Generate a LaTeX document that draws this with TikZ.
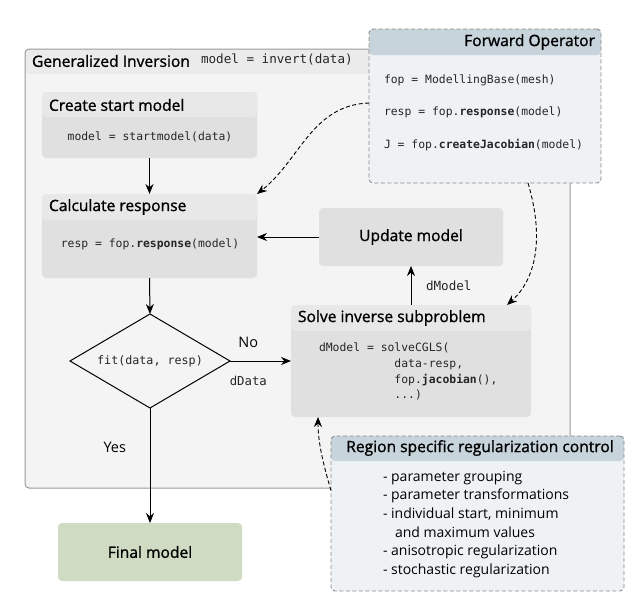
\documentclass[tikz,border=0pt]{standalone}
\usepackage{fontspec}
\setmainfont{Open Sans}
\setmonofont{DejaVu Sans Mono}
\newfontfamily\hdfont[FakeBold=1.2]{Open Sans}
\usetikzlibrary{arrows.meta,shapes.geometric}
\definecolor{outerfill}{HTML}{F4F4F4}
\definecolor{outerhdr}{HTML}{EBEBEB}
\definecolor{outerline}{HTML}{9A9A9A}
\definecolor{boxhdr}{HTML}{E8E8E8}
\definecolor{boxbody}{HTML}{E0E0E0}
\definecolor{bluehdr}{HTML}{C8D4DB}
\definecolor{bluebody}{HTML}{EEF2F4}
\definecolor{dashline}{HTML}{8A8A8A}
\definecolor{finalfill}{HTML}{D0DBC4}
\begin{document}
\begin{tikzpicture}[x=1pt,y=-1pt,
  every node/.style={inner sep=0pt, outer sep=0pt},
  hdtext/.style={font=\hdfont\fontsize{15.6}{18}\selectfont, text=black},
  codetext/.style={font=\ttfamily\fontsize{11.4}{15.7}\selectfont, text=black!85},
  lbltext/.style={font=\fontsize{14.5}{17}\selectfont, text=black},
  hdrband/.style n args={2}{path picture={\fill[#1] (path picture bounding box.north west) rectangle ([yshift=-#2]path picture bounding box.north east);}},
  outerbox/.style={draw=outerline, line width=1pt, fill=outerfill, rounded corners=4pt, anchor=north west, hdrband={outerhdr}{25pt}},
  graybox/.style={fill=boxbody, rounded corners=4pt, anchor=north west, hdrband={boxhdr}{#1}},
  plainbox/.style={fill=boxbody, rounded corners=4pt, anchor=north west},
  bluebox/.style={draw=dashline, dash pattern=on 4pt off 2.5pt, line width=0.9pt, fill=bluebody, rounded corners=4pt, anchor=north west, hdrband={bluehdr}{#1}},
  finalbox/.style={fill=finalfill, rounded corners=4pt, anchor=north west},
  arr/.style={-{Stealth[length=10pt,width=8pt]}, line width=1pt, black},
  darr/.style={-{Stealth[length=10pt,width=8pt]}, line width=0.9pt, black, dash pattern=on 4pt off 2.5pt},
  decision/.style={diamond, draw=black, line width=1pt, aspect=1.7, minimum width=160pt, minimum height=94pt, fill=outerfill}
]
\useasboundingbox (0,0) rectangle (643,605);

% outer container
\node[outerbox, minimum width=545pt, minimum height=439pt] (gi) at (25,49) {};
\node[hdtext, anchor=west] (gititle) at (32,61) {Generalized Inversion};
\node[codetext, font=\ttfamily\fontsize{12.6}{15}\selectfont, anchor=west] (gicode) at (201,60) {model = invert(data)};

% create start model
\node[graybox=25pt, minimum width=215pt, minimum height=66pt] (csm) at (42,92) {};
\node[hdtext, anchor=west] (csmtitle) at (49,105) {Create start model};
\node[codetext] (csmcode) at (150,137) {model = startmodel(data)};

% calculate response
\node[graybox=26pt, minimum width=215pt, minimum height=84pt] (calc) at (42,194) {};
\node[hdtext, anchor=west] (calctitle) at (49,207) {Calculate response};
\node[codetext] (calccode) at (150,244) {resp = fop.\textbf{response}(model)};

% update model
\node[plainbox, minimum width=184pt, minimum height=58pt] (upd) at (319,208) {};
\node[hdtext] (updtitle) at (upd.center) {Update model};

% solve inverse subproblem
\node[graybox=26pt, minimum width=240pt, minimum height=112pt] (solve) at (291,305) {};
\node[hdtext, anchor=west] (solvetitle) at (298,318) {Solve inverse subproblem};
\node[codetext, anchor=north west, align=left] (solvecode) at (319,343) {dModel = solveCGLS(\\
\phantom{dModel = so}data-resp,\\
\phantom{dModel = so}fop.\textbf{jacobian}(),\\
\phantom{dModel = so}...)};

% decision
\node[decision] (fit) at (150,361) {};
\node[codetext, font=\ttfamily\fontsize{11.7}{15}\selectfont] (fittext) at (fit.center) {fit(data, resp)};

% final model
\node[finalbox, minimum width=184pt, minimum height=58pt] (final) at (58,523) {};
\node[hdtext] (finaltitle) at (final.center) {Final model};

% forward operator
\node[bluebox=26pt, minimum width=232pt, minimum height=154pt] (fo) at (369,29) {};
\node[hdtext, anchor=east] (fotitle) at (595,42) {Forward Operator};
\node[codetext, anchor=west] (fo1) at (384,80) {fop = ModellingBase(mesh)};
\node[codetext, anchor=west] (fo2) at (384,112) {resp = fop.\textbf{response}(model)};
\node[codetext, anchor=west] (fo3) at (384,145) {J = fop.\textbf{createJacobian}(model)};

% region specific regularization control
\node[bluebox=25pt, minimum width=293pt, minimum height=155pt] (reg) at (331,436) {};
\node[hdtext] (regtitle) at (480,448) {Region specific regularization control};
\node[anchor=north west, align=left, font=\fontsize{14}{18.6}\selectfont] (reglist) at (383,471) {- parameter grouping\\
- parameter transformations\\
- individual start, minimum\\
\hspace*{12pt}and maximum values\\
- anisotropic regularization\\
- stochastic regularization};

% connectors
\draw[arr] (csm.south) -- (calc.north);
\draw[arr] (calc.south) -- (fit.north);
\draw[arr] (upd.west) -- (upd.west -| calc.east);
\draw[arr] (solve.north) -- (upd.south) node[codetext, font=\ttfamily\fontsize{12.6}{15}\selectfont, midway, anchor=west, xshift=15pt] (dmodel) {dModel};
\draw[arr] (fit.east) -- (fit.east -| solve.west)
  node[lbltext, pos=0.3, yshift=19pt] (nolbl) {No}
  node[codetext, font=\ttfamily\fontsize{12.3}{15}\selectfont, pos=0.3, yshift=-20pt] (ddata) {dData};
\draw[arr] (fit.south) -- (final.north) node[lbltext, pos=0.34, anchor=east, xshift=-24pt] (yeslbl) {Yes};

\draw[darr] ([yshift=3pt]fo.west) .. controls (312,105) and (300,160) .. (calc.north east);
\draw[darr] ([xshift=-73pt]fo.south east) .. controls (545,240) and (535,280) .. ([xshift=-24pt]solve.north east);
\draw[darr] ([yshift=23pt]reg.west) .. controls (325,470) and (318,445) .. ([xshift=27pt]solve.south west);
\end{tikzpicture}
\end{document}
